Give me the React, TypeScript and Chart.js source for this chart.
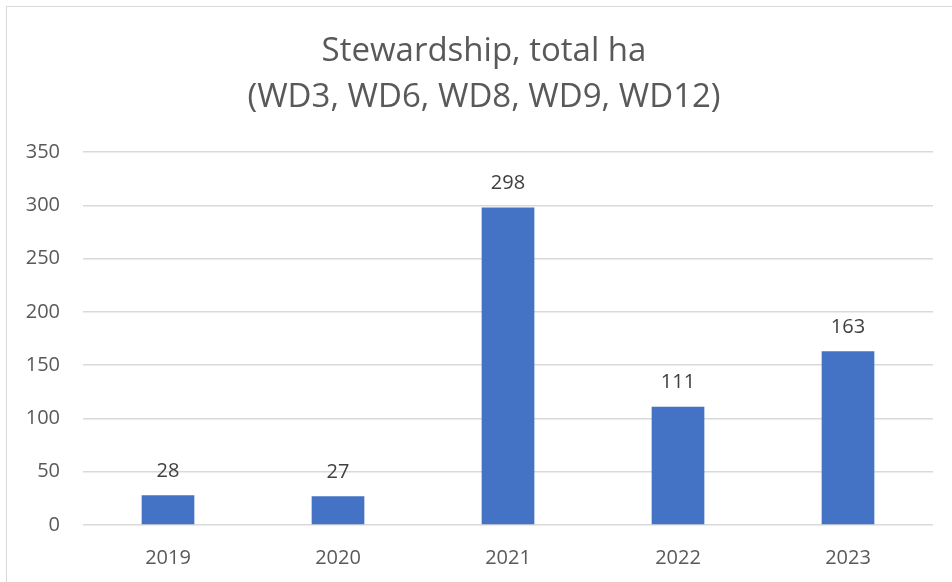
import React, { useEffect, useRef } from "react";
import { Chart, registerables } from "chart.js";

Chart.register(...registerables);

const categories: string[] = ["2019", "2020", "2021", "2022", "2023"];
const values: number[] = [28, 27, 298, 111, 163];
const titleLines: string[] = ["Stewardship, total ha", "(WD3, WD6, WD8, WD9, WD12)"];
const yMin = 0;
const yMax = 350;
const yStep = 50;

const FONT = "'Open Sans', 'Noto Sans', sans-serif";

const dataLabelPlugin = {
  id: "dataLabels",
  afterDatasetsDraw(chart: any) {
    const ctx = chart.ctx;
    const meta = chart.getDatasetMeta(0);
    ctx.save();
    ctx.fillStyle = "#404040";
    ctx.font = `20px ${FONT}`;
    ctx.textAlign = "center";
    ctx.textBaseline = "middle";
    meta.data.forEach((bar: any, i: number) => {
      const v = chart.data.datasets[0].data[i];
      ctx.fillText(String(v), bar.x, bar.y - 24);
    });
    ctx.restore();
  },
};

// Title centred on the original chart frame (which extends past the right edge)
const titlePlugin = {
  id: "frameTitle",
  afterDraw(chart: any) {
    const ctx = chart.ctx;
    ctx.save();
    ctx.fillStyle = "#595959";
    ctx.font = `33px ${FONT}`;
    ctx.textAlign = "center";
    ctx.textBaseline = "middle";
    titleLines.forEach((line, i) => {
      ctx.fillText(line, 484, 52 + i * 46);
    });
    ctx.restore();
  },
};

export default function App() {
  const ref = useRef<HTMLCanvasElement | null>(null);

  useEffect(() => {
    if (!ref.current) return;
    const chart = new Chart(ref.current, {
      type: "bar",
      data: {
        labels: categories,
        datasets: [
          {
            data: values,
            backgroundColor: "#4472C4",
            borderWidth: 0,
            categoryPercentage: 1,
            barPercentage: 0.31,
          },
        ],
      },
      options: {
        animation: false,
        responsive: false,
        devicePixelRatio: 1,
        layout: { padding: { left: 0, right: 19, top: 152, bottom: 0 } },
        plugins: {
          legend: { display: false },
          tooltip: { enabled: false },
          title: { display: false },
        },
        scales: {
          x: {
            grid: { display: false, drawTicks: false },
            border: { display: false },
            ticks: {
              color: "#595959",
              font: { family: FONT, size: 20 },
              padding: 21,
              maxRotation: 0,
            },
            afterFit(scale: any) {
              scale.height = 57;
            },
          },
          y: {
            min: yMin,
            max: yMax,
            grid: { color: "#d9d9d9", lineWidth: 1.5, drawTicks: false },
            border: { display: false },
            ticks: {
              stepSize: yStep,
              color: "#595959",
              font: { family: FONT, size: 20 },
              padding: 23,
            },
            afterFit(scale: any) {
              scale.width = 83;
            },
          },
        },
      },
      plugins: [dataLabelPlugin, titlePlugin],
    });
    return () => chart.destroy();
  }, []);

  return (
    <div
      style={{
        position: "fixed",
        left: 0,
        top: 0,
        width: 952,
        height: 582,
        background: "#ffffff",
        overflow: "hidden",
      }}
    >
      <div
        style={{
          position: "absolute",
          left: 6,
          top: 6,
          width: 1000,
          height: 1000,
          border: "1.5px solid #d9d9d9",
          boxSizing: "border-box",
        }}
      />
      <canvas
        ref={ref}
        width={952}
        height={582}
        style={{ position: "absolute", left: 0, top: 0, width: 952, height: 582 }}
      />
    </div>
  );
}
